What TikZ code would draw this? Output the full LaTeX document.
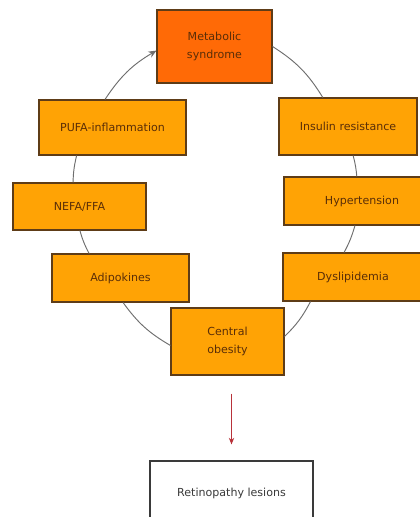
\documentclass[tikz,border=0pt]{standalone}
\usepackage{fontspec}
\setmainfont{DejaVu Sans}
\usetikzlibrary{arrows.meta}
\definecolor{msorange}{HTML}{FF6A06}
\definecolor{boxorange}{HTML}{FFA305}
\definecolor{boxedge}{HTML}{5E3C17}
\definecolor{txtbrown}{HTML}{5A2E08}
\definecolor{loopgray}{HTML}{6E6E6E}
\definecolor{arrowred}{HTML}{B8323A}
\definecolor{txtgray}{HTML}{3A3A3A}

\tikzset{
  factor/.style={draw=boxedge, line width=0.8pt, fill=boxorange, text=txtbrown,
    align=center, inner sep=0pt, font=\fontsize{8.3}{13.5}\selectfont},
  loopline/.style={draw=loopgray, line width=0.7pt},
}

\begin{document}
\begin{tikzpicture}[x=0.75pt, y=0.75pt, >={Stealth[length=6pt, width=5pt]}]

% Background / frame of the page
\useasboundingbox (0,0) rectangle (420,-517);
\fill[white] (0,0) rectangle (420,-517);

% === Top: metabolic syndrome ===
\node[factor, fill=msorange, minimum width=86.25pt, minimum height=54.75pt]
  (meta) at (214.5,-46.5) {Metabolic\\syndrome};

% === Left side of the loop ===
\node[factor, minimum width=110.25pt, minimum height=41.25pt] (pufa) at (112.5,-127.5) {PUFA-inflammation};
\node[factor, minimum width=99.75pt, minimum height=35.25pt] (nefa) at (79.5,-206.5) {NEFA/FFA};
\node[factor, minimum width=102.75pt, minimum height=36pt] (adipo) at (120.5,-278) {Adipokines};

% === Right side of the loop (boxes run past the right edge) ===
\node[factor, minimum width=103.5pt, minimum height=42.75pt] (insulin) at (348,-126.5) {Insulin resistance};
\node[factor, minimum width=117pt, minimum height=36pt] (hyper) at (362,-201) {Hypertension};
\node[factor, minimum width=105pt, minimum height=36pt] (dysl) at (353,-277) {Dyslipidemia};

% === Bottom: central obesity ===
\node[factor, minimum width=84.75pt, minimum height=50.25pt] (central) at (227.5,-341.5) {Central\\obesity};

% Outcome box (runs off the bottom edge)
\node[draw=txtgray, line width=0.8pt, fill=white, text=txtgray, inner sep=0pt,
  font=\fontsize{8.3}{10}\selectfont, minimum width=122.25pt, minimum height=48pt]
  (retino) at (231.5,-493) {Retinopathy lesions};

% Loop connectors, clockwise
\draw[loopline, ->] (pufa.105) to[bend left=13] (meta.184);
\draw[loopline] (meta.east) to[bend left=13] (insulin.131);
\draw[loopline] (insulin.-80) to[bend left=5] (hyper.102);
\draw[loopline] (hyper.254) to[bend left=6] (dysl.110);
\draw[loopline] (dysl.210) to[bend left=9] (central.5);
\draw[loopline] (central.184) to[bend left=12] (adipo.276);
\draw[loopline] (adipo.142) to[bend left=6] (nefa.271);
\draw[loopline] (nefa.105) to[bend left=6] (pufa.218);

% Red arrow down to the lesions
\draw[arrowred, line width=0.7pt, ->, >={Stealth[length=5pt, width=4pt]},
  shorten <=13.5pt, shorten >=12pt] (central.south -| retino.north) -- (retino.north);

\end{tikzpicture}
\end{document}
